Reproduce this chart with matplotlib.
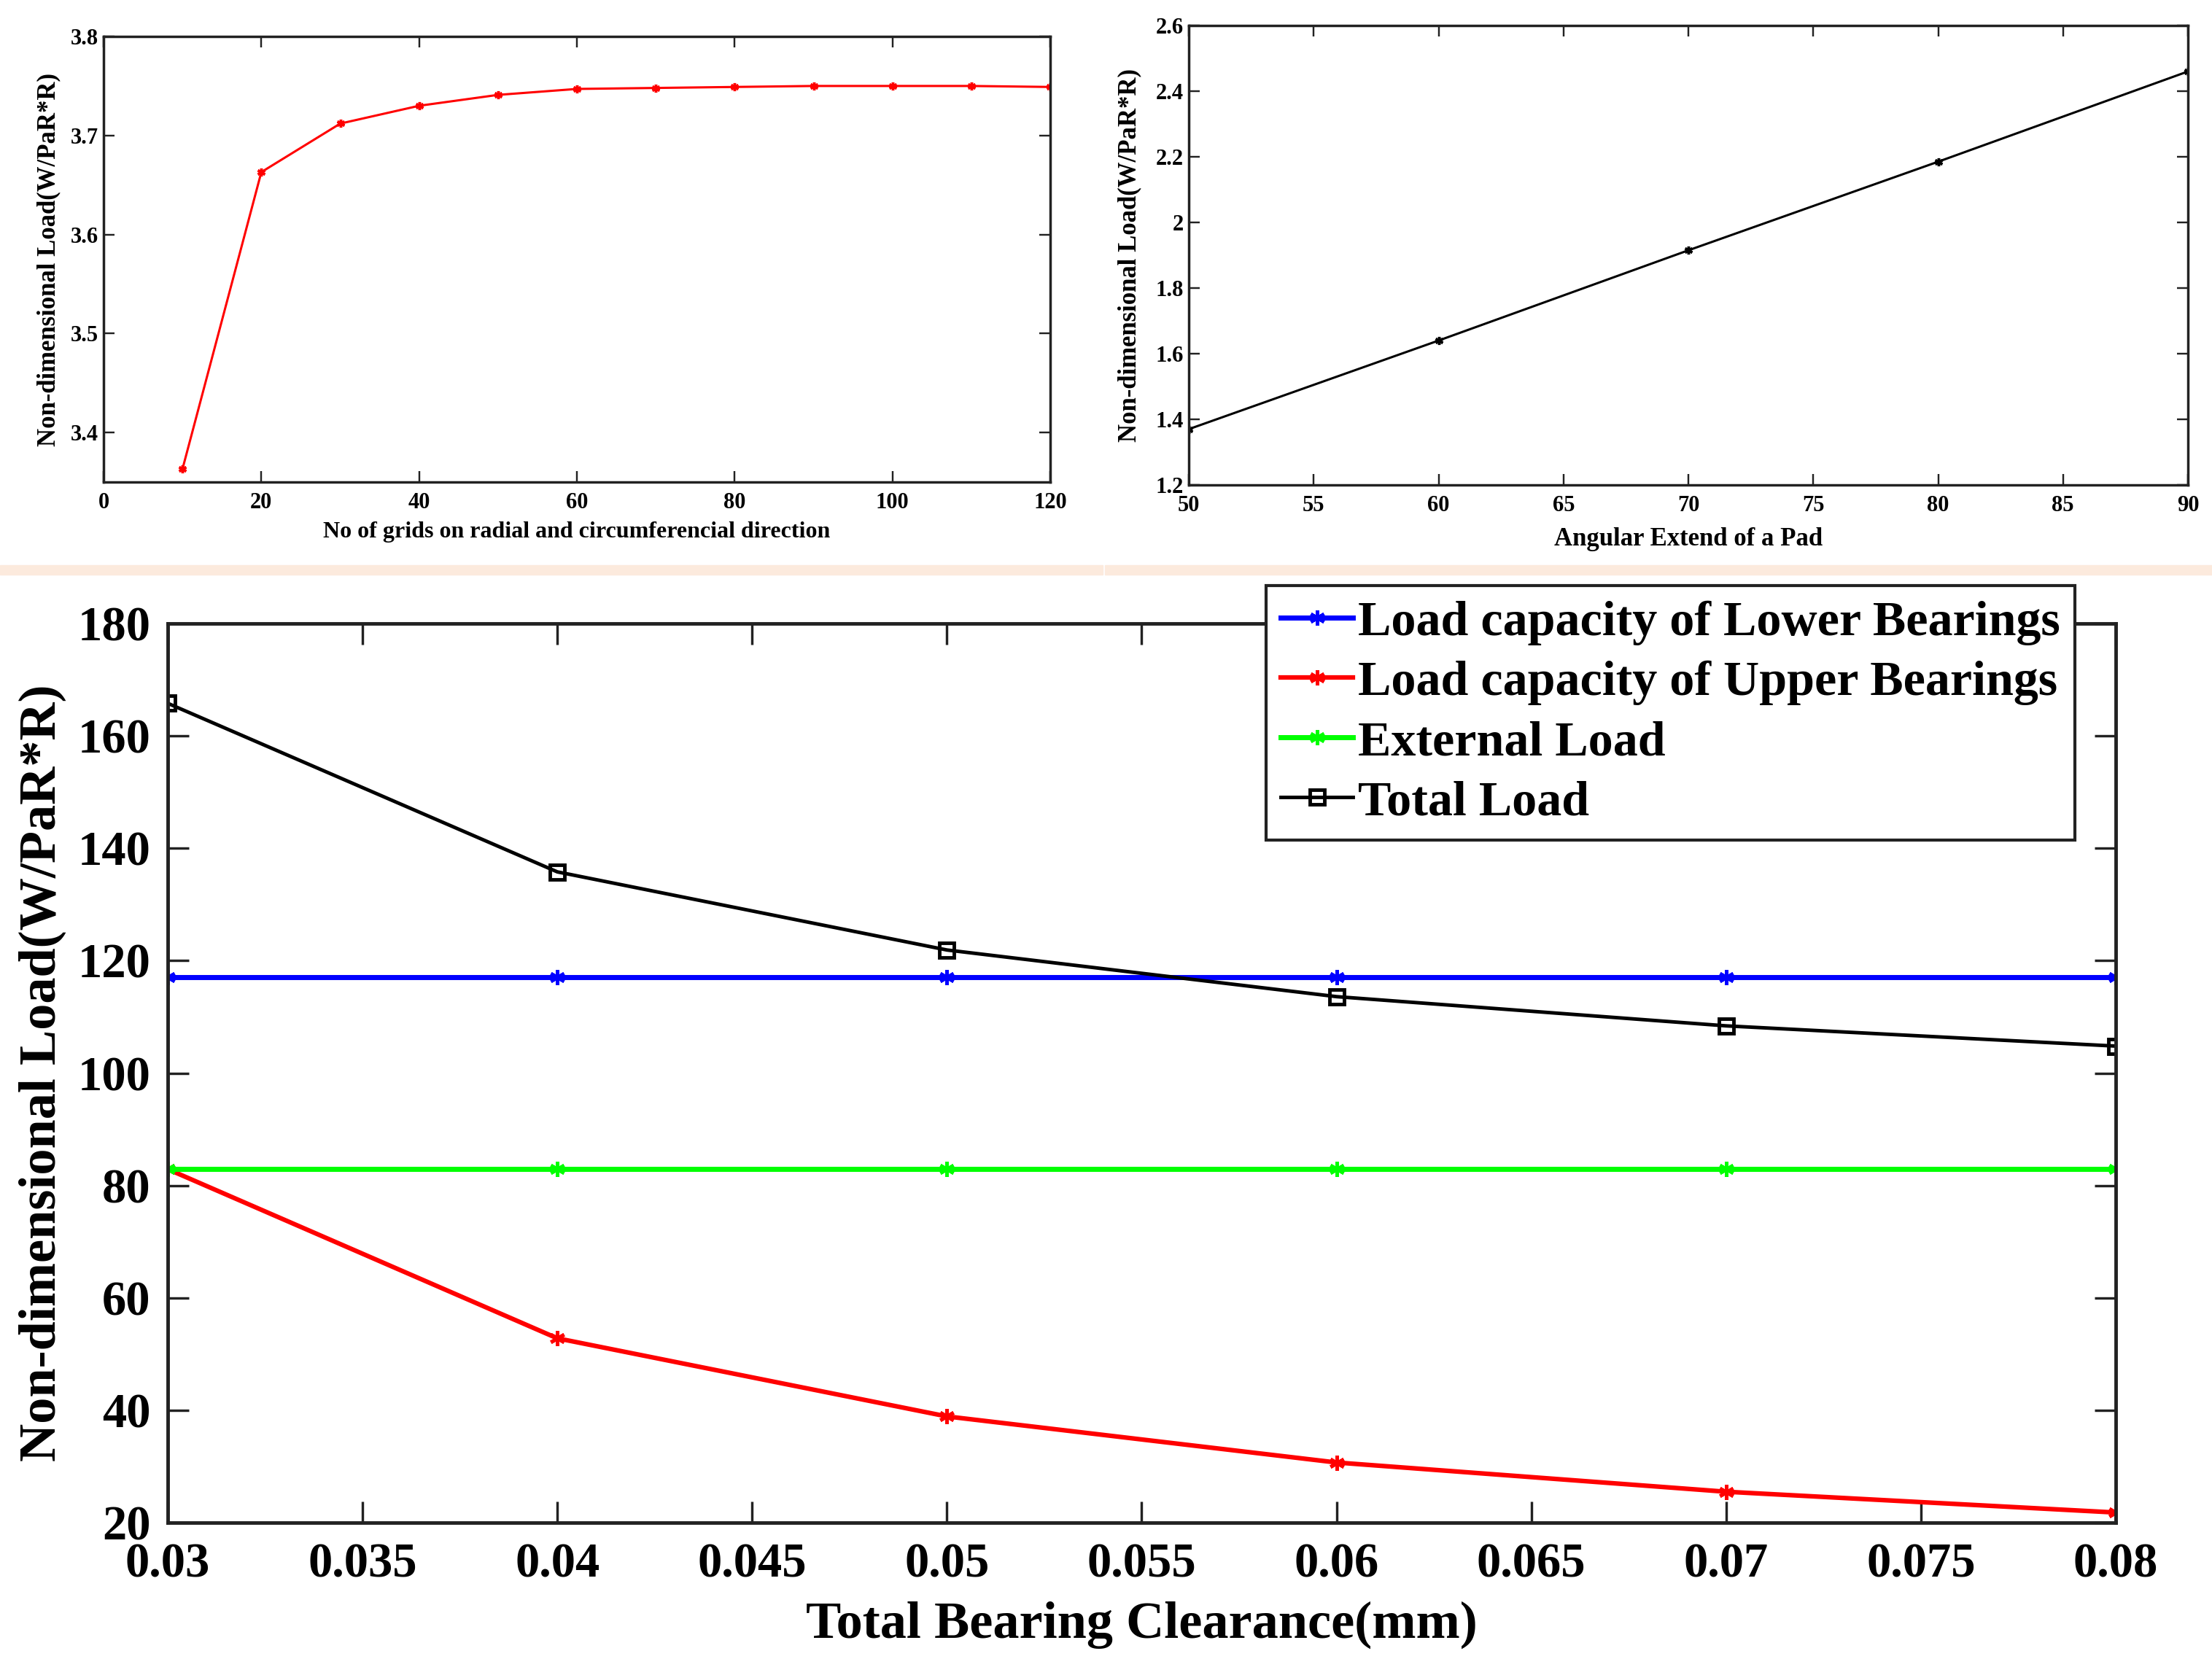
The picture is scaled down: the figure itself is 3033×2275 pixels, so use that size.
import numpy as np
import matplotlib.pyplot as plt
from matplotlib.patches import Rectangle
from matplotlib.ticker import FormatStrFormatter

plt.rcParams['font.family'] = ['Liberation Serif', 'DejaVu Serif']
plt.rcParams['font.weight'] = 'bold'
plt.rcParams['axes.labelweight'] = 'bold'

# grid study (top left)
grids = [10, 20, 30, 40, 50, 60, 70, 80, 90, 100, 110, 120]
grid_load = [3.363, 3.663, 3.712, 3.730, 3.741, 3.747, 3.748, 3.749, 3.750, 3.750, 3.750, 3.749]

# pad angle study (top right)
pad_angle = [50, 60, 70, 80, 90]
pad_load = [1.37, 1.64, 1.915, 2.185, 2.46]

# clearance study (bottom)
clearance = [0.03, 0.04, 0.05, 0.06, 0.07, 0.08]
lower_load = [117.1, 117.1, 117.1, 117.1, 117.1, 117.1]
upper_load = [82.9, 52.8, 38.9, 30.7, 25.5, 21.8]
external_load = [82.9, 82.9, 82.9, 82.9, 82.9, 82.9]
total_load = [165.8, 135.8, 121.9, 113.6, 108.4, 104.8]

W, H = 3033, 2275
fig = plt.figure(figsize=(W / 100, H / 100), dpi=100)


def rect(l, t, r, b):
    return [l / W, 1 - b / H, (r - l) / W, (b - t) / H]


def style(ax, lw, tlen, size):
    ax.tick_params(direction='in', top=True, right=True, length=tlen, width=lw * 0.7,
                   labelsize=size, color='#222222')
    for s in ax.spines.values():
        s.set_linewidth(lw)
        s.set_color('#222222')


asterisk = (6, 2, 0)
ylabel = 'Non-dimensional Load(W/PaR*R)'

# peach separator band
fig.patches.append(Rectangle((0, 1 - 788 / H), 1512 / W, 13 / H, transform=fig.transFigure,
                             color='#FCEADD', zorder=0))
fig.patches.append(Rectangle((1515 / W, 1 - 788 / H), 1, 13 / H, transform=fig.transFigure,
                             color='#FCEADD', zorder=0))

# ---- top left ----
ax1 = fig.add_axes(rect(142, 50, 1440, 661))
ax1.plot(grids, grid_load, color='red', lw=2.2, marker=asterisk, ms=8, mew=2.5)
ax1.set_xlim(0, 120)
ax1.set_ylim(3.35, 3.8)
ax1.set_xticks(np.arange(0, 121, 20))
ax1.set_yticks([3.4, 3.5, 3.6, 3.7, 3.8])
style(ax1, 2.5, 11, 22)
ax1.tick_params(axis='x', pad=10)
ax1.tick_params(axis='y', pad=5)
ax1.set_xlabel('No of grids on radial and circumferencial direction', fontsize=23)
ax1.set_ylabel(ylabel, fontsize=25)
ax1.xaxis.set_label_coords(0.5, -0.088)
ax1.yaxis.set_label_coords(-0.045, 0.5)

# ---- top right ----
ax2 = fig.add_axes(rect(1630, 35, 3000, 665))
ax2.plot(pad_angle, pad_load, color='black', lw=2.2, marker=asterisk, ms=8, mew=2.5)
ax2.set_xlim(50, 90)
ax2.set_ylim(1.2, 2.6)
ax2.set_xticks(np.arange(50, 91, 5))
ax2.set_yticks(np.arange(1.2, 2.61, 0.2))
ax2.yaxis.set_major_formatter(FormatStrFormatter('%g'))
style(ax2, 2.5, 11, 22)
ax2.tick_params(axis='x', pad=10)
ax2.tick_params(axis='y', pad=5)
ax2.set_xlabel('Angular Extend of a Pad', fontsize=25)
ax2.set_ylabel(ylabel, fontsize=25)
ax2.xaxis.set_label_coords(0.5, -0.092)
ax2.yaxis.set_label_coords(-0.047, 0.5)

# ---- bottom ----
ax3 = fig.add_axes(rect(230, 855, 2901, 2088))
ax3.plot(clearance, lower_load, color='#0000FF', lw=5, marker=asterisk, ms=15, mew=3.5,
         label='Load capacity of Lower Bearings')
ax3.plot(clearance, upper_load, color='#FF0000', lw=4.5, marker=asterisk, ms=15, mew=3.5,
         label='Load capacity of Upper Bearings')
ax3.plot(clearance, external_load, color='#00FF00', lw=5, marker=asterisk, ms=15, mew=3.5,
         label='External Load')
ax3.plot(clearance, total_load, color='black', lw=3.5, marker='s', ms=14, mfc='none', mew=3.5,
         label='Total Load')
ax3.set_xlim(0.03, 0.08)
ax3.set_ylim(20, 180)
ax3.set_xticks(np.arange(0.03, 0.0801, 0.005))
ax3.set_yticks(np.arange(20, 181, 20))
ax3.xaxis.set_major_formatter(FormatStrFormatter('%g'))
style(ax3, 3.5, 21, 48)
ax3.tick_params(axis='x', pad=20)
ax3.tick_params(axis='y', pad=17)
ax3.set_xlabel('Total Bearing Clearance(mm)', fontsize=52)
ax3.set_ylabel(ylabel, fontsize=52)
ax3.xaxis.set_label_coords(0.5, -0.087)
ax3.yaxis.set_label_coords(-0.052, 0.5)

leg = ax3.legend(loc='upper right', bbox_to_anchor=(2845 / W, 1 - 803 / H),
                 bbox_transform=fig.transFigure, borderaxespad=0, fontsize=49,
                 fancybox=False, framealpha=1, edgecolor='#222222', handlelength=1.45,
                 handletextpad=0.1, labelspacing=0.3, borderpad=0.3)
leg.get_frame().set_linewidth(3)
leg.set_zorder(5)

fig.savefig('out.png', dpi=100)
